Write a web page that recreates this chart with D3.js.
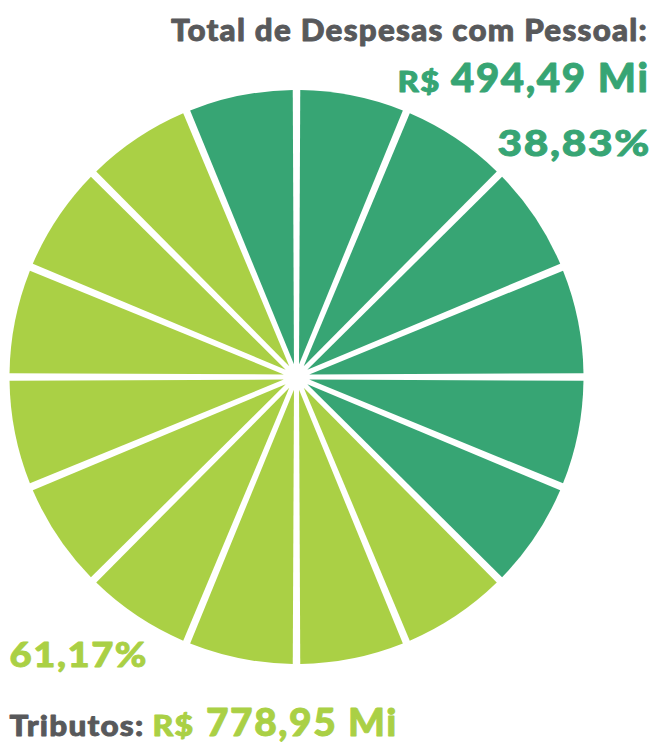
<!DOCTYPE html>
<html>
<head>
<meta charset="utf-8">
<script src="https://cdn.jsdelivr.net/npm/d3@7"></script>
<style>
  html, body { margin: 0; padding: 0; background: #fff; }
  svg { display: block; }
  text { font-family: Lato, "Open Sans", sans-serif; font-weight: 900; }
</style>
</head>
<body>
<svg id="chart" width="655" height="742"></svg>
<script>
// ---- data ----
const categories = ["Pessoal", "Tributos"];
const categoryTitles = ["Total de Despesas com Pessoal:", "Tributos:"];
const currency = "R$";
const amounts = ["494,49 Mi", "778,95 Mi"];
const percents = ["38,83%", "61,17%"];
const colors = ["#37a574", "#aad045"];
// pictogram: 16 equal wedges, clockwise from 12 o'clock
const sliceCategory = [
  "Pessoal","Pessoal","Pessoal","Pessoal","Pessoal","Pessoal",
  "Tributos","Tributos","Tributos","Tributos","Tributos","Tributos","Tributos","Tributos","Tributos",
  "Pessoal"
];

const svg = d3.select("#chart");
const cx = 296.5, cy = 377, R = 287;

const color = d3.scaleOrdinal().domain(categories).range(colors);
const pie = d3.pie().sort(null).value(() => 1);
const arc = d3.arc()
  .innerRadius(13)
  .outerRadius(R)
  .padRadius(R)
  .padAngle(7.5 / R);

svg.append("g")
  .attr("transform", `translate(${cx},${cy})`)
  .selectAll("path")
  .data(pie(sliceCategory))
  .join("path")
  .attr("d", arc)
  .attr("fill", d => color(d.data));

const gray = "#58595b";

function label(txt, x, y, size, len, fill) {
  svg.append("text")
    .attr("x", x).attr("y", y)
    .attr("fill", fill)
    .attr("stroke", fill)
    .attr("stroke-width", 0.9)
    .attr("stroke-linejoin", "round")
    .attr("textLength", len)
    .attr("lengthAdjust", "spacingAndGlyphs")
    .style("font-size", size + "px")
    .style("letter-spacing", "0.04em")
    .text(txt);
}

// top-right labels (Pessoal)
label(categoryTitles[0], 171, 41, 30.5, 477, gray);
label(currency, 397.5, 91.7, 28, 43, colors[0]);
label(amounts[0], 451, 91.7, 39, 198.5, colors[0]);
label(percents[0], 497.5, 156, 36.5, 153.5, colors[0]);

// bottom-left labels (Tributos)
label(percents[1], 9.5, 666.7, 35, 138.5, colors[1]);
label(categoryTitles[1], 9.5, 735.5, 29, 135, gray);
label(currency, 152.5, 735.5, 28, 42, colors[1]);
label(amounts[1], 206, 735.5, 38, 192, colors[1]);
</script>
</body>
</html>
